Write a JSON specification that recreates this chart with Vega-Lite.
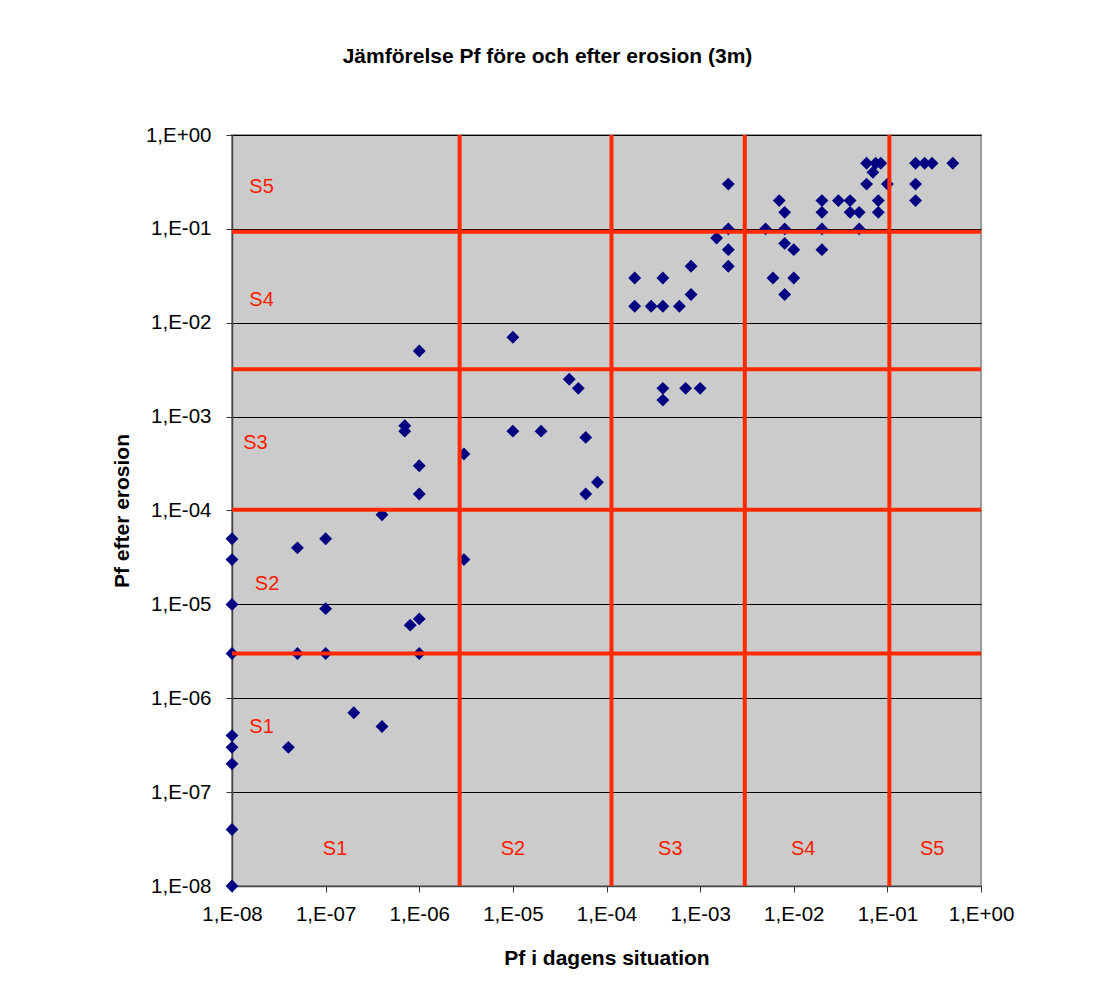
{
  "$schema": "https://vega.github.io/schema/vega-lite/v6.json",
  "width": 749,
  "height": 751,
  "autosize": {"type": "none"},
  "padding": {"left": 232, "top": 135, "right": 128, "bottom": 113},
  "background": "white",
  "title": {"text": "Jämförelse Pf före och efter erosion (3m)", "font": "Liberation Sans", "fontSize": 21, "fontWeight": "bold", "color": "black", "anchor": "middle", "frame": "group", "dx": -59, "offset": 58},
  "config": {
    "view": {"fill": "#cbcbcb", "stroke": "#9a9a9a", "strokeWidth": 2},
    "axis": {"labelFont": "Liberation Sans", "labelFontSize": 20.5, "labelColor": "black", "titleFont": "Liberation Sans", "titleFontSize": 21, "titleFontWeight": "bold", "titleColor": "black", "tickColor": "#333", "domainColor": "#444", "domainWidth": 1.5, "tickSize": 6, "labelOverlap": false, "labelBound": false, "labelFlush": false}
  },
  "datasets": {
    "points": [
      {"pf_idag": 1e-8, "pf_efter": 1e-8},
      {"pf_idag": 1e-8, "pf_efter": 4e-8},
      {"pf_idag": 1e-8, "pf_efter": 2e-7},
      {"pf_idag": 1e-8, "pf_efter": 3e-7},
      {"pf_idag": 1e-8, "pf_efter": 4e-7},
      {"pf_idag": 4e-8, "pf_efter": 3e-7},
      {"pf_idag": 2e-7, "pf_efter": 7e-7},
      {"pf_idag": 4e-7, "pf_efter": 5e-7},
      {"pf_idag": 1e-8, "pf_efter": 3e-6},
      {"pf_idag": 5e-8, "pf_efter": 3e-6},
      {"pf_idag": 1e-7, "pf_efter": 3e-6},
      {"pf_idag": 1e-6, "pf_efter": 3e-6},
      {"pf_idag": 1e-8, "pf_efter": 1e-5},
      {"pf_idag": 1e-7, "pf_efter": 9e-6},
      {"pf_idag": 8e-7, "pf_efter": 6e-6},
      {"pf_idag": 1e-6, "pf_efter": 7e-6},
      {"pf_idag": 1e-8, "pf_efter": 3e-5},
      {"pf_idag": 1e-8, "pf_efter": 5e-5},
      {"pf_idag": 5e-8, "pf_efter": 4e-5},
      {"pf_idag": 1e-7, "pf_efter": 5e-5},
      {"pf_idag": 4e-7, "pf_efter": 9e-5},
      {"pf_idag": 3e-6, "pf_efter": 3e-5},
      {"pf_idag": 1e-6, "pf_efter": 1.5e-4},
      {"pf_idag": 1e-6, "pf_efter": 3e-4},
      {"pf_idag": 7e-7, "pf_efter": 7e-4},
      {"pf_idag": 7e-7, "pf_efter": 8e-4},
      {"pf_idag": 1e-6, "pf_efter": 5e-3},
      {"pf_idag": 3e-6, "pf_efter": 4e-4},
      {"pf_idag": 1e-5, "pf_efter": 7e-4},
      {"pf_idag": 2e-5, "pf_efter": 7e-4},
      {"pf_idag": 6e-5, "pf_efter": 6e-4},
      {"pf_idag": 8e-5, "pf_efter": 2e-4},
      {"pf_idag": 6e-5, "pf_efter": 1.5e-4},
      {"pf_idag": 1e-5, "pf_efter": 7e-3},
      {"pf_idag": 4e-5, "pf_efter": 2.5e-3},
      {"pf_idag": 5e-5, "pf_efter": 2e-3},
      {"pf_idag": 4e-4, "pf_efter": 2e-3},
      {"pf_idag": 4e-4, "pf_efter": 1.5e-3},
      {"pf_idag": 7e-4, "pf_efter": 2e-3},
      {"pf_idag": 1e-3, "pf_efter": 2e-3},
      {"pf_idag": 2e-4, "pf_efter": 0.03},
      {"pf_idag": 4e-4, "pf_efter": 0.03},
      {"pf_idag": 8e-4, "pf_efter": 0.04},
      {"pf_idag": 2e-4, "pf_efter": 0.015},
      {"pf_idag": 3e-4, "pf_efter": 0.015},
      {"pf_idag": 4e-4, "pf_efter": 0.015},
      {"pf_idag": 6e-4, "pf_efter": 0.015},
      {"pf_idag": 8e-4, "pf_efter": 0.02},
      {"pf_idag": 1.5e-3, "pf_efter": 0.08},
      {"pf_idag": 2e-3, "pf_efter": 0.1},
      {"pf_idag": 2e-3, "pf_efter": 0.06},
      {"pf_idag": 2e-3, "pf_efter": 0.04},
      {"pf_idag": 2e-3, "pf_efter": 0.3},
      {"pf_idag": 5e-3, "pf_efter": 0.1},
      {"pf_idag": 7e-3, "pf_efter": 0.2},
      {"pf_idag": 8e-3, "pf_efter": 0.15},
      {"pf_idag": 8e-3, "pf_efter": 0.1},
      {"pf_idag": 8e-3, "pf_efter": 0.07},
      {"pf_idag": 0.01, "pf_efter": 0.06},
      {"pf_idag": 6e-3, "pf_efter": 0.03},
      {"pf_idag": 0.01, "pf_efter": 0.03},
      {"pf_idag": 8e-3, "pf_efter": 0.02},
      {"pf_idag": 0.02, "pf_efter": 0.2},
      {"pf_idag": 0.02, "pf_efter": 0.15},
      {"pf_idag": 0.02, "pf_efter": 0.1},
      {"pf_idag": 0.02, "pf_efter": 0.06},
      {"pf_idag": 0.03, "pf_efter": 0.2},
      {"pf_idag": 0.04, "pf_efter": 0.2},
      {"pf_idag": 0.04, "pf_efter": 0.15},
      {"pf_idag": 0.05, "pf_efter": 0.15},
      {"pf_idag": 0.05, "pf_efter": 0.1},
      {"pf_idag": 0.06, "pf_efter": 0.5},
      {"pf_idag": 0.06, "pf_efter": 0.3},
      {"pf_idag": 0.07, "pf_efter": 0.4},
      {"pf_idag": 0.075, "pf_efter": 0.5},
      {"pf_idag": 0.085, "pf_efter": 0.5},
      {"pf_idag": 0.08, "pf_efter": 0.2},
      {"pf_idag": 0.08, "pf_efter": 0.15},
      {"pf_idag": 0.1, "pf_efter": 0.3},
      {"pf_idag": 0.2, "pf_efter": 0.5},
      {"pf_idag": 0.25, "pf_efter": 0.5},
      {"pf_idag": 0.3, "pf_efter": 0.5},
      {"pf_idag": 0.5, "pf_efter": 0.5},
      {"pf_idag": 0.2, "pf_efter": 0.3},
      {"pf_idag": 0.2, "pf_efter": 0.2}
    ],
    "vlines": [
      {"pf_idag": 2.7e-6},
      {"pf_idag": 1.13e-4},
      {"pf_idag": 3e-3},
      {"pf_idag": 0.105}
    ],
    "hlines": [
      {"pf_efter": 3e-6},
      {"pf_efter": 1.02e-4},
      {"pf_efter": 3.2e-3},
      {"pf_efter": 0.093}
    ],
    "labels": [
      {"label": "S1", "pf_idag": 1.26e-7, "pf_efter": 2.46e-8},
      {"label": "S2", "pf_idag": 1e-5, "pf_efter": 2.46e-8},
      {"label": "S3", "pf_idag": 4.8e-4, "pf_efter": 2.46e-8},
      {"label": "S4", "pf_idag": 1.26e-2, "pf_efter": 2.46e-8},
      {"label": "S5", "pf_idag": 0.301, "pf_efter": 2.46e-8},
      {"label": "S5", "pf_idag": 2.07e-8, "pf_efter": 0.278},
      {"label": "S4", "pf_idag": 2.07e-8, "pf_efter": 0.0173},
      {"label": "S3", "pf_idag": 1.78e-8, "pf_efter": 5.2e-4},
      {"label": "S2", "pf_idag": 2.37e-8, "pf_efter": 1.66e-5},
      {"label": "S1", "pf_idag": 2.07e-8, "pf_efter": 4.9e-7}
    ]
  },
  "layer": [
    {
      "data": {"name": "points"},
      "mark": {"type": "point", "shape": "diamond", "filled": true, "size": 165, "color": "#000080", "opacity": 1},
      "encoding": {
        "x": {"field": "pf_idag", "type": "quantitative", "title": "Pf i dagens situation",
          "scale": {"type": "log", "domain": [1e-8, 1], "nice": false},
          "axis": {"values": [1e-8, 1e-7, 1e-6, 1e-5, 1e-4, 1e-3, 1e-2, 1e-1, 1], "grid": false, "labelPadding": 12, "titlePadding": 23,
            "labelExpr": "'1,E' + (datum.value >= 0.5 ? '+00' : '-0' + round(-log(datum.value)/LN10))"}},
        "y": {"field": "pf_efter", "type": "quantitative", "title": "Pf efter erosion",
          "scale": {"type": "log", "domain": [1e-8, 1], "nice": false},
          "axis": {"values": [1e-8, 1e-7, 1e-6, 1e-5, 1e-4, 1e-3, 1e-2, 1e-1, 1], "grid": true, "gridColor": "black", "gridWidth": 1, "gridOpacity": 1, "labelPadding": 15, "titlePadding": 13,
            "labelExpr": "'1,E' + (datum.value >= 0.5 ? '+00' : '-0' + round(-log(datum.value)/LN10))"}}
      }
    },
    {
      "data": {"name": "vlines"},
      "mark": {"type": "rule", "color": "#ff2a00", "strokeWidth": 4},
      "encoding": {"x": {"field": "pf_idag", "type": "quantitative"}}
    },
    {
      "data": {"name": "hlines"},
      "mark": {"type": "rule", "color": "#ff2a00", "strokeWidth": 4},
      "encoding": {"y": {"field": "pf_efter", "type": "quantitative"}}
    },
    {
      "data": {"name": "labels"},
      "mark": {"type": "text", "color": "#ff1a00", "font": "Liberation Sans", "fontSize": 20},
      "encoding": {
        "x": {"field": "pf_idag", "type": "quantitative"},
        "y": {"field": "pf_efter", "type": "quantitative"},
        "text": {"field": "label"}
      }
    }
  ]
}
